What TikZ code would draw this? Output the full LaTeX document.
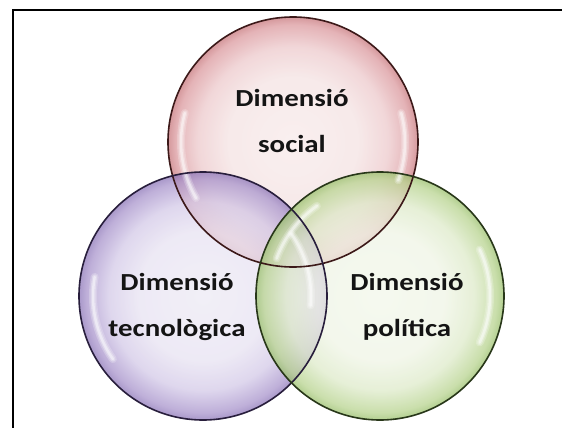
\documentclass[tikz,border=0pt]{standalone}
\usepackage{fontspec}
\newfontfamily\lblfont[FakeStretch=1.18]{Carlito}
\pgfdeclareradialshading{redsh}{\pgfpoint{0bp}{0bp}}{rgb(0bp)=(0.97,0.92,0.92); rgb(13bp)=(0.96,0.89,0.89); rgb(19bp)=(0.93,0.79,0.80); rgb(23.5bp)=(0.86,0.60,0.62); rgb(25bp)=(0.78,0.46,0.48); rgb(50bp)=(0.78,0.46,0.48)}
\pgfdeclareradialshading{purplesh}{\pgfpoint{0bp}{0bp}}{rgb(0bp)=(0.93,0.92,0.96); rgb(13bp)=(0.91,0.89,0.95); rgb(19bp)=(0.83,0.79,0.91); rgb(23.5bp)=(0.66,0.58,0.80); rgb(25bp)=(0.55,0.46,0.72); rgb(50bp)=(0.55,0.46,0.72)}
\pgfdeclareradialshading{greensh}{\pgfpoint{0bp}{0bp}}{rgb(0bp)=(0.95,0.97,0.92); rgb(13bp)=(0.94,0.96,0.90); rgb(19bp)=(0.87,0.92,0.79); rgb(23.5bp)=(0.72,0.83,0.56); rgb(25bp)=(0.60,0.75,0.42); rgb(50bp)=(0.60,0.75,0.42)}
\definecolor{redline}{RGB}{60,25,25}
\definecolor{purpleline}{RGB}{40,30,60}
\definecolor{greenline}{RGB}{40,55,25}
\definecolor{txt}{RGB}{20,20,20}
\tikzset{
  bubble/.style={circle, minimum size=250pt, inner sep=0pt, fill opacity=0.74},
  rim/.style={line width=1.6pt},
  gloss/.style={white, line width=8pt, line cap=round, opacity=0.22,
    postaction={draw, white, line width=5pt, opacity=0.3},
    postaction={draw, white, line width=2.5pt, opacity=0.45}},
  lbl/.style={font=\lblfont\bfseries\fontsize{24.5}{46}\selectfont, text=txt, align=center, inner sep=0pt},
  frame/.style={black, line width=2.4pt}
}
\begin{document}
\begin{tikzpicture}[x=1pt,y=-1pt]
\useasboundingbox (0,0) rectangle (562,428);
\fill[white] (0,0) rectangle (562,428);
% frame
\coordinate (ftl) at (13,10);
\coordinate (ftr) at (562,10);
\coordinate (fbl) at (13,428);
\draw[frame] (ftr) -- (ftl) -- (fbl);
% bubbles
\node[bubble, shading=redsh] (red) at (293,142) {};
\node[bubble, shading=purplesh, minimum size=248pt] (purple) at (203,296) {};
\node[bubble, shading=greensh, minimum size=248pt] (green) at (380,296) {};
% gloss
\draw[gloss] (red.center) ++(150:112) arc[start angle=150, end angle=195, radius=112];
\draw[gloss] (red.center) ++(-15:112) arc[start angle=-15, end angle=20, radius=112];
\draw[gloss] (purple.center) ++(145:110) arc[start angle=145, end angle=190, radius=110];
\draw[gloss] (purple.center) ++(5:108) arc[start angle=5, end angle=-35, radius=108];
\draw[gloss] (green.center) ++(-25:110) arc[start angle=-25, end angle=25, radius=110];
\draw[gloss] (green.center) ++(200:110) arc[start angle=200, end angle=235, radius=110];
% rims
\draw[rim, redline] (red.center) circle[radius=125];
\draw[rim, purpleline] (purple.center) circle[radius=124];
\draw[rim, greenline] (green.center) circle[radius=124];
% labels
\node[lbl] (tred) at (292,121) {Dimensió\\social};
\node[lbl] (tpurple) at (177,307) {Dimensió\\tecnològica};
\node[lbl] (tgreen) at (407,307) {Dimensió\\política};
\end{tikzpicture}
\end{document}
